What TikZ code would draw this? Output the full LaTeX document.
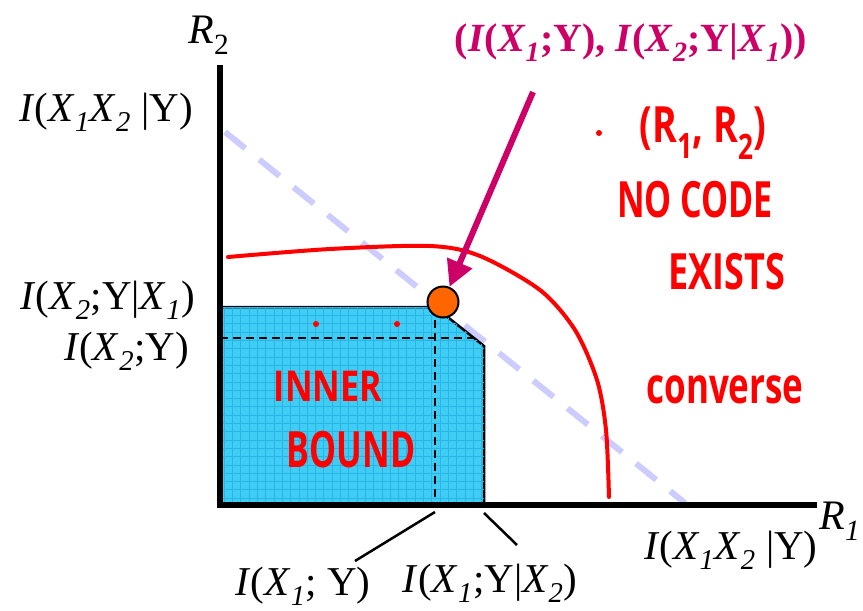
\documentclass[tikz,border=0pt]{standalone}
\usepackage{fontspec}
\setmainfont{Liberation Serif}
\newfontfamily\handfont{Open Sans}
\usepackage{xcolor}
\definecolor{cFill}{HTML}{3FCDF5}
\definecolor{cGrid}{HTML}{27B5E5}
\definecolor{cHand}{HTML}{FF0000}
\definecolor{cPoint}{HTML}{CC0066}
\definecolor{cDot}{HTML}{FF6600}
\definecolor{cSum}{HTML}{CCCCFF}
\usetikzlibrary{arrows.meta,calc}
\tikzset{
  line-axis/.style={line width=6pt,draw=black},
  line-guide/.style={line width=2.5pt,dash pattern=on 8pt off 5pt},
  line-leader/.style={line width=2.5pt},
  line-sum/.style={line width=6pt,draw=cSum,dash pattern=on 26pt off 18pt},
  line-outer/.style={line width=4pt,draw=cHand,line cap=round,line join=round},
  arrow-point/.style={-{Triangle[length=26pt,width=26pt]},line width=6pt,draw=cPoint},
  text-info/.style={font=\fontsize{41}{41}\selectfont,inner sep=0pt},
  text-axis/.style={font=\fontsize{42}{42}\selectfont,inner sep=0pt},
  text-hand/.style={text=cHand,font=\handfont\bfseries\fontsize{50}{50}\selectfont,inner sep=0pt},
  node-point/.style={circle,draw=black,line width=2pt,fill=cDot,minimum size=31pt,inner sep=0pt},
  dot-hand/.style={circle,fill=cHand,minimum size=6pt,inner sep=0pt},
}
\newcommand{\rI}{\textit{I}}
\newcommand{\rX}[1]{\textit{X}\textsubscript{\textit{#1}}}

\begin{document}
\begin{tikzpicture}[x=1pt,y=-1pt]
  \useasboundingbox (0,0) rectangle (863,611);
  % sum-rate line, behind the region
  \draw[line-sum] (225,132) -- (685,503);
  % inner bound region
  \filldraw[fill=cFill,draw=black,line width=2.5pt]
    (220,307) -- (435,307) -- (484,346) -- (484,505) -- (220,505) -- cycle;
  \begin{scope}
    \clip (220,307) -- (435,307) -- (484,346) -- (484,505) -- (220,505) -- cycle;
    \draw[cGrid,line width=0.5pt,step=8.3pt] (220,300) grid (490,510);
  \end{scope}
  \draw[line-guide] (220,338) -- (474,338);
  \draw[line-guide] (435,307) -- (435,505);
  % axes
  \coordinate (o) at (220,505);
  \coordinate (r2-top) at (220,65);
  \coordinate (r1-end) at (817,505);
  \draw[line-axis] (r2-top) -- (220,508);
  \draw[line-axis] (217,505) -- (r1-end);
  \node[text-axis] (r2) at (209,35) {\textit{R}\textsubscript{2}};
  \node[text-axis] (r1) at (840,521) {\textit{R}\textsubscript{\textit{1}}};
  % labels on the R2 axis
  \node[text-info,anchor=east] (y-sum) at (193,112) {\rI(\rX{1}\rX{2} |Y)};
  \node[text-info,anchor=east] (y-cond) at (195,300) {\rI(\rX{2};Y|\rX{1})};
  \node[text-info,anchor=east] (y-plain) at (189,351) {\rI(\rX{2};Y)};
  % labels on the R1 axis
  \coordinate (x-plain-tick) at (435,512);
  \coordinate (x-cond-tick) at (484,513);
  \node[text-info] (x-plain) at (303,586) {\rI(\rX{1}; Y)};
  \node[text-info] (x-cond) at (490,583) {\rI(\rX{1};Y|\rX{2})};
  \node[text-info] (x-sum) at (731,550) {\rI(\rX{1}\rX{2} |Y)};
  \draw[line-leader] (x-plain-tick) -- (355,561);
  \draw[line-leader] (x-cond-tick) -- (517,545);
  % outer bound
  \draw[line-outer] plot[smooth] coordinates {(228,257) (330,249) (430,246)
    (480,256) (540,290) (575,330) (597,380) (606,430) (609,497)};
  % corner point
  \node[text-info,text=cPoint,font=\bfseries\fontsize{40}{40}\selectfont]
    (corner-lbl) at (631,43) {(\rI(\rX{1};Y), \rI(\rX{2};Y|\rX{1}))};
  \coordinate (arrow-start) at (533,92);
  \node[node-point] (corner) at (443,302) {};
  \draw[arrow-point] (arrow-start) -- (corner);
  % handwritten notes
  \node[dot-hand] (d1) at (316,324) {};
  \node[dot-hand] (d2) at (397,324) {};
  \node[dot-hand] (d3) at (599,133) {};
  \node[text-hand] (rate) at (703,133) {\scalebox{0.75}[1]{(R\textsubscript{1}, R\textsubscript{2})}};
  \node[text-hand] (no-code) at (695,200) {\scalebox{0.68}[1]{NO CODE}};
  \node[text-hand] (exists) at (727,272) {\scalebox{0.72}[1]{EXISTS}};
  \node[text-hand] (conv) at (725,390) {\scalebox{0.7}[1]{converse}};
  \node[text-hand] (inner) at (328,386) {\scalebox{0.68}[0.85]{INNER}};
  \node[text-hand] (bound) at (351,450) {\scalebox{0.68}[1]{BOUND}};
\end{tikzpicture}
\end{document}
